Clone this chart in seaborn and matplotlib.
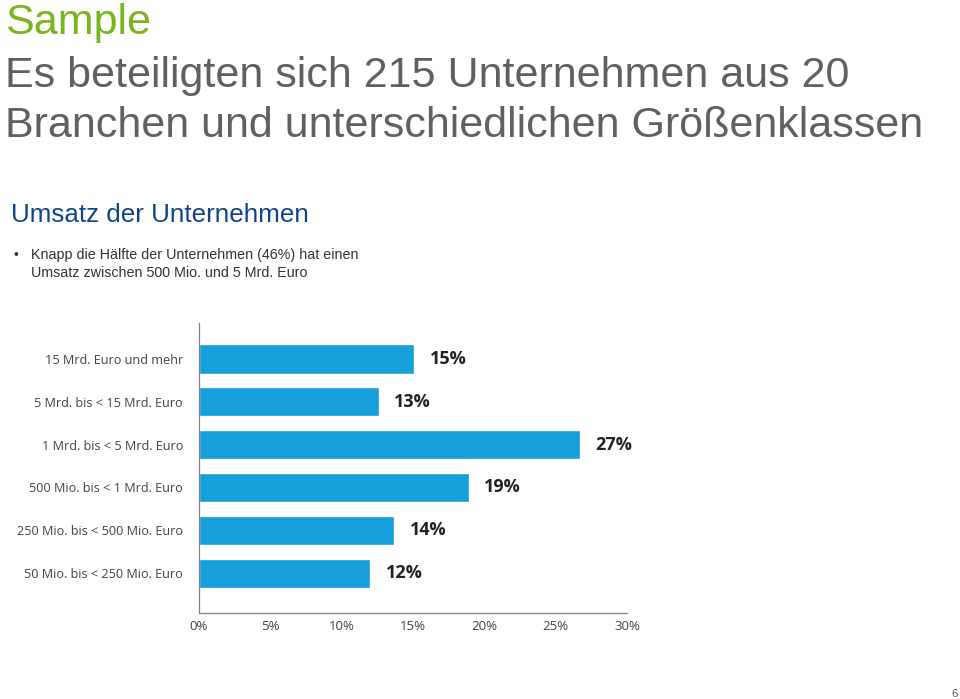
import matplotlib
matplotlib.use("Agg")
import matplotlib.pyplot as plt
import seaborn as sns
import pandas as pd

categories = [
    "15 Mrd. Euro und mehr",
    "5 Mrd. bis < 15 Mrd. Euro",
    "1 Mrd. bis < 5 Mrd. Euro",
    "500 Mio. bis < 1 Mrd. Euro",
    "250 Mio. bis < 500 Mio. Euro",
    "50 Mio. bis < 250 Mio. Euro",
]
values = [15.1, 12.6, 26.7, 18.9, 13.7, 12.0]
value_labels = ["15%", "13%", "27%", "19%", "14%", "12%"]
x_ticks = [0, 5, 10, 15, 20, 25, 30]
x_tick_labels = ["0%", "5%", "10%", "15%", "20%", "25%", "30%"]

sns.set_theme(style="white")
plt.rcParams["font.family"] = ["Liberation Sans", "DejaVu Sans"]

df = pd.DataFrame({"Kategorie": categories, "Anteil": values})

fig = plt.figure(figsize=(9.6, 6.99), dpi=100)
W, H = 960, 699
ax = fig.add_axes([199 / W, 1 - 613 / H, (627 - 199) / W, (613 - 323) / H])

sns.barplot(data=df, x="Anteil", y="Kategorie", orient="h", color="#169fdb",
            saturation=1, width=0.68, ax=ax)

ax.set_xlim(0, 30)
ax.set_ylim(5.93, -0.84)
ax.set_xlabel("")
ax.set_ylabel("")
ax.set_xticks(x_ticks)
ax.set_xticklabels(x_tick_labels, family="Open Sans", fontsize=9.5, color="#444444")
ax.set_yticks(range(len(categories)))
ax.set_yticklabels(categories, family="Open Sans", fontsize=9.1, color="#444444")
ax.tick_params(axis="x", length=0, pad=5)
ax.tick_params(axis="y", length=0, pad=11.5)
for s in ["top", "right"]:
    ax.spines[s].set_visible(False)
for s in ["left", "bottom"]:
    ax.spines[s].set_color("#808080")
    ax.spines[s].set_linewidth(0.9)

for i, (v, lab) in enumerate(zip(values, value_labels)):
    ax.annotate(lab, xy=(v, i), xytext=(11, 0), textcoords="offset points",
                ha="left", va="center", family="Open Sans", fontweight="bold",
                fontsize=13, color="#222222")

fig.text(5 / W, 1 - 34 / H, "Sample", fontsize=31, color="#7ab51d", ha="left", va="baseline")
fig.text(5 / W, 1 - 87 / H, "Es beteiligten sich 215 Unternehmen aus 20",
         fontsize=31, color="#606060", ha="left", va="baseline")
fig.text(5 / W, 1 - 137 / H, "Branchen und unterschiedlichen Größenklassen",
         fontsize=31, color="#606060", ha="left", va="baseline")
fig.text(11 / W, 1 - 222 / H, "Umsatz der Unternehmen", fontsize=18.7,
         color="#0f4586", ha="left", va="baseline")
fig.text(13 / W, 1 - 259 / H, "•", fontsize=10, color="#333333", ha="left", va="baseline")
fig.text(31 / W, 1 - 259 / H, "Knapp die Hälfte der Unternehmen (46%) hat einen",
         fontsize=10.3, color="#333333", ha="left", va="baseline")
fig.text(31 / W, 1 - 277 / H, "Umsatz zwischen 500 Mio. und 5 Mrd. Euro",
         fontsize=10.3, color="#333333", ha="left", va="baseline")
fig.text(958 / W, 1 - 697 / H, "6", fontsize=8, color="#555555", ha="right", va="baseline")

fig.savefig("out.png", dpi=100, facecolor="white")
